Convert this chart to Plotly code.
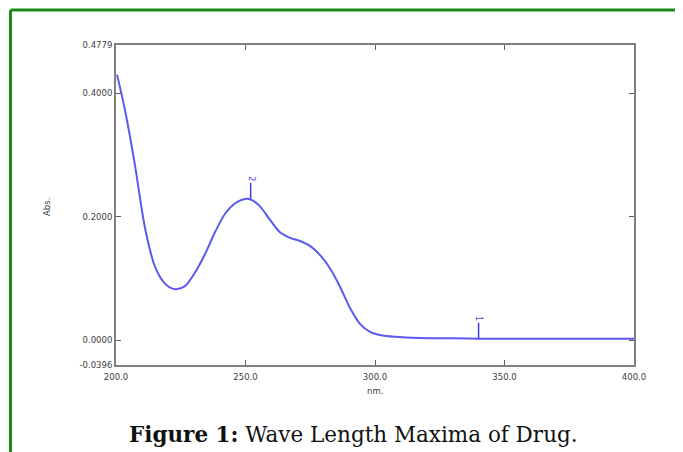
import plotly.graph_objects as go

# Spectrum data
wavelength_nm = [200.4, 203.5, 207.3, 211.2, 215.1, 218.9, 222.8, 226.6, 230.5, 234.4,
                 238.2, 242.1, 246.0, 249.8, 252.5, 255.6, 259.5, 263.3, 267.2, 271.0,
                 274.9, 278.8, 282.6, 286.5, 290.3, 294.2, 298.1, 301.9, 307.7, 317.4,
                 330.0, 339.8, 360.0, 380.0, 400.0]
absorbance = [0.430, 0.372, 0.284, 0.182, 0.119, 0.092, 0.083, 0.088, 0.110, 0.140,
              0.175, 0.205, 0.222, 0.229, 0.227, 0.217, 0.195, 0.175, 0.166, 0.161,
              0.153, 0.138, 0.117, 0.087, 0.053, 0.027, 0.014, 0.009, 0.006, 0.004,
              0.0035, 0.003, 0.003, 0.0028, 0.0028]

peak_nm = [340.0, 252.0]
peak_abs = [0.003, 0.229]
peak_labels = ["1", "2"]

x_ticks = [200, 250, 300, 350, 400]
x_tick_text = ["200.0", "250.0", "300.0", "350.0", "400.0"]
y_ticks = [-0.0396, 0.0, 0.2, 0.4, 0.4779]
y_tick_text = ["-0.0396", "0.0000", "0.2000", "0.4000", "0.4779"]

OFF = 8  # page body margin
W, H = 683 - OFF, 452 - OFF
L, R, T, B = 116 - OFF, 634 - OFF, 45 - OFF, 365 - OFF

def px(xs):
    return (xs - OFF - L) / (R - L)

def py(ys):
    return (B - (ys - OFF)) / (B - T)

fig = go.Figure()
fig.add_trace(go.Scatter(x=wavelength_nm, y=absorbance, mode="lines",
                         line=dict(color="#5a5af0", width=2, shape="spline", smoothing=0.8),
                         hoverinfo="skip", showlegend=False))

tick_font = dict(family="DejaVu Sans, Verdana, sans-serif", size=8.5, color="#404040")
axis_common = dict(showgrid=False, zeroline=False, showline=True, linecolor="#808080",
                   linewidth=2, mirror="ticks", ticks="inside", ticklen=5,
                   tickcolor="#606060", tickwidth=1, tickfont=tick_font)

fig.update_xaxes(range=[200, 400], tickvals=x_ticks, ticktext=x_tick_text,
                 ticklabelstandoff=3, **axis_common)
fig.update_yaxes(range=[-0.0396, 0.4779], tickvals=y_ticks, ticktext=y_tick_text, **axis_common)

annotations = []
for xn, yv, lab in zip(peak_nm, peak_abs, peak_labels):
    annotations.append(dict(x=xn, y=yv, xref="x", yref="y", text=lab, textangle=90,
                            showarrow=True, arrowhead=0, arrowwidth=1.5, arrowcolor="#4040e0",
                            ax=0, ay=-20, font=dict(size=8, color="#4040e0",
                                                    family="DejaVu Sans, Arial")))
annotations += [
    dict(x=px(47), y=py(207), xref="paper", yref="paper", text="Abs.", textangle=-90,
         xanchor="center", yanchor="middle", showarrow=False, font=tick_font),
    dict(x=px(375), y=py(391), xref="paper", yref="paper", text="nm.",
         xanchor="center", yanchor="middle", showarrow=False, font=tick_font),
    dict(x=px(353), y=py(434), xref="paper", yref="paper",
         text="<b>Figure 1:</b> Wave Length Maxima of Drug.", showarrow=False,
         xanchor="center", yanchor="middle",
         font=dict(family="DejaVu Serif, Liberation Serif, serif", size=21.5, color="#111111")),
]

green = "#1a8a1a"
shapes = [
    dict(type="line", xref="paper", yref="paper", x0=px(10.5), x1=px(683), y0=py(10), y1=py(10),
         line=dict(color=green, width=3)),
    dict(type="line", xref="paper", yref="paper", x0=px(10.5), x1=px(10.5), y0=py(10), y1=py(452),
         line=dict(color=green, width=3)),
]

fig.update_layout(width=W, height=H, margin=dict(l=L, r=W - R, t=T, b=H - B),
                  paper_bgcolor="white", plot_bgcolor="white",
                  annotations=annotations, shapes=shapes, showlegend=False)

fig.write_html("out.html")
